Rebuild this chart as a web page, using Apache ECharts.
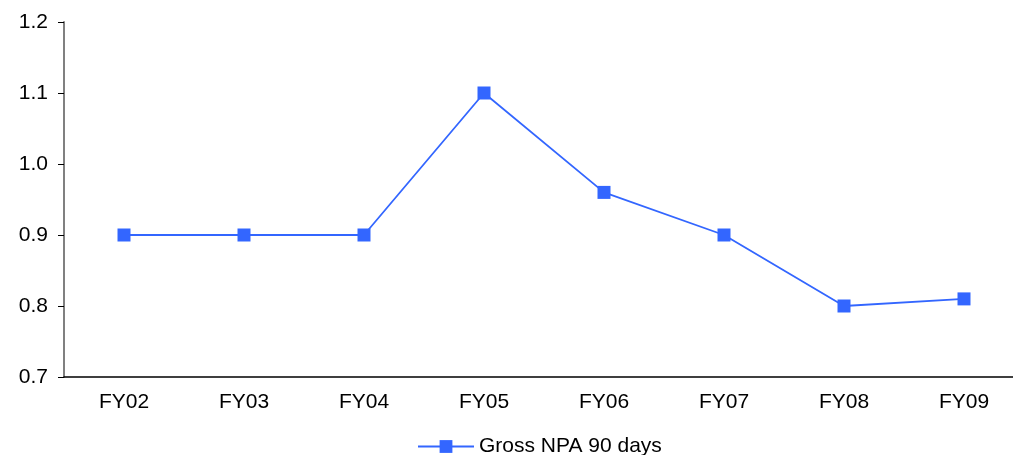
<!DOCTYPE html>
<html>
<head>
<meta charset="utf-8">
<script src="https://cdn.jsdelivr.net/npm/echarts@6/dist/echarts.min.js"></script>
<style>
  html, body { margin: 0; padding: 0; background: #fff; overflow: hidden; }
  #chart { width: 1030px; height: 455px; }
</style>
</head>
<body>
<div id="chart"></div>
<script>
const categories = ['FY02', 'FY03', 'FY04', 'FY05', 'FY06', 'FY07', 'FY08', 'FY09']
const grossNpa = [0.9, 0.9, 0.9, 1.1, 0.96, 0.9, 0.8, 0.81]
const seriesName = 'Gross NPA 90 days'

// plot area runs past the right edge of the picture, as in the original
const chart = echarts.init(document.getElementById('chart'))
chart.setOption({
  animation: false,
  grid: { left: 64, top: 22, right: 6, bottom: 78 },
  legend: {
    data: [seriesName],
    left: 412,
    top: 431,
    itemWidth: 56,
    itemHeight: 16,
    itemGap: 6,
    textStyle: { fontFamily: 'Liberation Sans', fontSize: 21, color: '#000' }
  },
  xAxis: {
    type: 'category',
    data: categories,
    boundaryGap: true,
    axisLine: { lineStyle: { color: '#000', width: 1.5 } },
    axisTick: { length: 5, lineStyle: { color: '#808080', width: 1.5 } },
    axisLabel: { margin: 15, fontFamily: 'Liberation Sans', fontSize: 21, color: '#000' },
    splitLine: { show: false }
  },
  yAxis: {
    type: 'value',
    min: 0.7,
    max: 1.2,
    interval: 0.1,
    axisLine: { show: true, lineStyle: { color: '#808080', width: 2 } },
    axisTick: { show: true, length: 6, lineStyle: { color: '#000', width: 1 } },
    axisLabel: {
      margin: 16,
      fontFamily: 'Liberation Sans',
      fontSize: 21,
      color: '#000',
      formatter: v => v.toFixed(1)
    },
    splitLine: { show: false }
  },
  series: [{
    name: seriesName,
    type: 'line',
    data: grossNpa,
    symbol: 'rect',
    symbolSize: 13,
    lineStyle: { color: '#3366FF', width: 1.8 },
    itemStyle: { color: '#3366FF' }
  }]
})
</script>
</body>
</html>
